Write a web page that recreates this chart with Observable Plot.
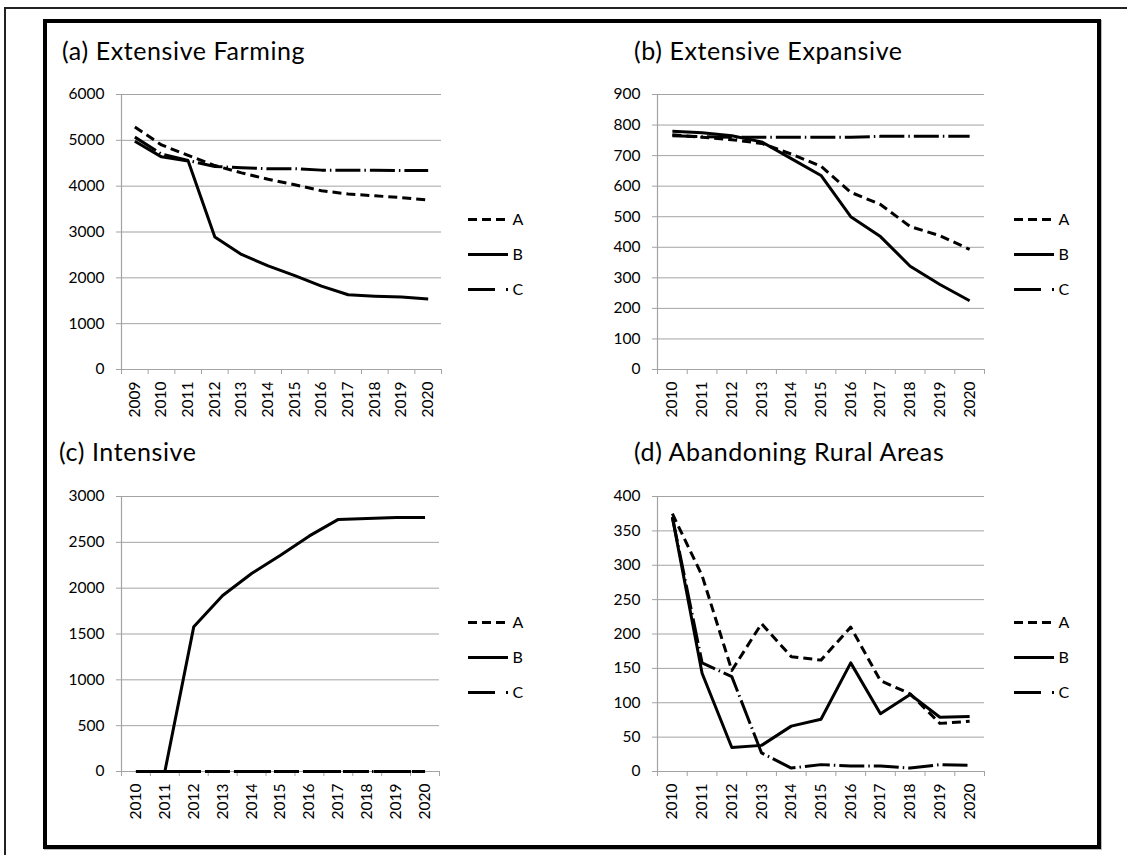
<!DOCTYPE html>
<html>
<head>
<meta charset="utf-8">
<script src="https://cdn.jsdelivr.net/npm/d3@7"></script>
<script src="https://cdn.jsdelivr.net/npm/@observablehq/plot@0.6"></script>
<style>
  body { margin: 0; background: #fff; }
  #root { position: relative; width: 1127px; height: 855px; overflow: hidden; background: #fff;
          font-family: Lato, "Open Sans", sans-serif; }
  .pos { position: absolute; }
  .pos svg { overflow: visible; }
</style>
</head>
<body>
<div id="root"></div>
<script>
// ---------------- data ----------------
const seriesKeys = ["A", "B", "C"];

const yearsFarming = ["2009","2010","2011","2012","2013","2014","2015","2016","2017","2018","2019","2020"];
const yearsOther   = ["2010","2011","2012","2013","2014","2015","2016","2017","2018","2019","2020"];

// (a) Extensive Farming
const farmingA = [5290, 4900, 4670, 4450, 4290, 4150, 4030, 3900, 3830, 3790, 3750, 3700];
const farmingB = [4980, 4640, 4550, 2890, 2510, 2260, 2050, 1820, 1630, 1600, 1580, 1540];
const farmingC = [5070, 4700, 4560, 4430, 4400, 4380, 4380, 4350, 4350, 4350, 4340, 4340];
const farmingTicks = [0, 1000, 2000, 3000, 4000, 5000, 6000];

// (b) Extensive Expansive
const expansiveA = [768, 760, 752, 740, 705, 665, 580, 540, 468, 438, 393];
const expansiveB = [780, 775, 765, 745, 690, 635, 500, 435, 338, 278, 225];
const expansiveC = [765, 762, 760, 760, 760, 760, 760, 763, 763, 763, 763];
const expansiveTicks = [0, 100, 200, 300, 400, 500, 600, 700, 800, 900];

// (c) Intensive
const intensiveA = [0, 0, 0, 0, 0, 0, 0, 0, 0, 0, 0];
const intensiveB = [0, 0, 1580, 1920, 2160, 2360, 2570, 2750, 2760, 2770, 2770];
const intensiveC = [0, 0, 0, 0, 0, 0, 0, 0, 0, 0, 0];
const intensiveTicks = [0, 500, 1000, 1500, 2000, 2500, 3000];

// (d) Abandoning Rural Areas
const abandonA = [375, 285, 147, 215, 167, 162, 210, 132, 113, 70, 73];
const abandonB = [370, 143, 35, 38, 66, 76, 158, 84, 112, 79, 80];
const abandonC = [370, 158, 138, 27, 5, 10, 8, 8, 5, 10, 9];
const abandonTicks = [0, 50, 100, 150, 200, 250, 300, 350, 400];

const titles = ["(a) Extensive Farming", "(b) Extensive Expansive", "(c) Intensive", "(d) Abandoning Rural Areas"];

// ---------------- styles / layout ----------------
const lineDash = { A: "9,5", B: null, C: "25,4,1.5,4" };
const legendDash = { A: "9,5", B: null, C: "27,11,3" };
const GRID = "#a3a3a3";
const FONT = "Lato, 'Open Sans', sans-serif";

const panels = [
  { title: titles[0], years: yearsFarming, values: { A: farmingA, B: farmingB, C: farmingC }, ticks: farmingTicks,
    frame: { left: 121, top: 94, right: 441, bottom: 369 }, titleAt: [62, 60], legendAt: [468, 218] },
  { title: titles[1], years: yearsOther, values: { A: expansiveA, B: expansiveB, C: expansiveC }, ticks: expansiveTicks,
    frame: { left: 657, top: 94, right: 984, bottom: 369 }, titleAt: [634, 60], legendAt: [1014, 218] },
  { title: titles[2], years: yearsOther, values: { A: intensiveA, B: intensiveB, C: intensiveC }, ticks: intensiveTicks,
    frame: { left: 121, top: 496, right: 439, bottom: 771 }, titleAt: [59, 461], legendAt: [468, 621] },
  { title: titles[3], years: yearsOther, values: { A: abandonA, B: abandonB, C: abandonC }, ticks: abandonTicks,
    frame: { left: 657, top: 496, right: 984, bottom: 771 }, titleAt: [634, 461], legendAt: [1014, 621] }
];

const root = document.getElementById("root");

function place(el, left, top) {
  const d = document.createElement("div");
  d.className = "pos";
  d.style.left = left + "px";
  d.style.top = top + "px";
  d.appendChild(el);
  root.appendChild(d);
  return d;
}

// outer thin frame (top + left edges) and thick inner box
const outer = document.createElement("div");
outer.style.cssText = "position:absolute;left:4px;top:7px;width:1200px;height:1000px;border-left:2px solid #222;border-top:2px solid #222;";
root.appendChild(outer);
const box = document.createElement("div");
box.style.cssText = "position:absolute;left:43px;top:19px;width:1058px;height:830px;box-sizing:border-box;border:4px solid #000;box-shadow:1px 1px 0 #bbb;";
root.appendChild(box);

// titles
const ns = "http://www.w3.org/2000/svg";
const tsvg = document.createElementNS(ns, "svg");
tsvg.setAttribute("width", 1127);
tsvg.setAttribute("height", 855);
tsvg.style.cssText = "position:absolute;left:0;top:0;";
panels.forEach(p => {
  const t = document.createElementNS(ns, "text");
  t.setAttribute("x", p.titleAt[0]);
  t.setAttribute("y", p.titleAt[1]);
  t.setAttribute("font-family", FONT);
  t.setAttribute("font-size", "25");
  t.setAttribute("letter-spacing", "0.6");
  t.setAttribute("fill", "#000");
  t.textContent = p.title;
  tsvg.appendChild(t);
});
root.appendChild(tsvg);

// charts
panels.forEach(p => {
  const f = p.frame;
  const ml = 80, mt = 12, mr = 12, mb = 62;
  const W = f.right - f.left + ml + mr;
  const H = f.bottom - f.top + mt + mb;
  const yrs = p.years.map(Number);
  const x0 = yrs[0] - 0.5, x1 = yrs[yrs.length - 1] + 0.5;
  const bounds = d3.range(yrs.length + 1).map(i => x0 + i);
  const rows = seriesKeys.flatMap(k => p.years.map((y, i) => ({ series: k, year: +y, value: p.values[k][i] })));
  const ymax = p.ticks[p.ticks.length - 1];

  const chart = Plot.plot({
    width: W, height: H,
    marginLeft: ml, marginTop: mt, marginRight: mr, marginBottom: mb,
    style: { fontFamily: FONT, background: "transparent", color: "#000" },
    x: { type: "linear", domain: [x0, x1] },
    y: { domain: [0, ymax] },
    marks: [
      Plot.gridY(p.ticks, { stroke: GRID, strokeOpacity: 1, strokeWidth: 1 }),
      Plot.ruleX([x0], { stroke: GRID, strokeWidth: 1.2 }),
      Plot.axisY(p.ticks, { label: null, tickSize: 5, tickPadding: 12, stroke: GRID, fill: "#000", fontSize: 15.5, tickFormat: d => String(d) }),
      Plot.axisX(bounds, { label: null, tickSize: 5, stroke: GRID, tickFormat: () => "" }),
      Plot.axisX(yrs, { label: null, tickSize: 0, tickPadding: 12, tickRotate: -90, fill: "#000", fontSize: 15.5, tickFormat: d => String(d) }),
      ...seriesKeys.map(k => Plot.line(rows.filter(r => r.series === k), {
        x: "year", y: "value", stroke: "#000", strokeWidth: 3,
        strokeDasharray: lineDash[k], strokeLinejoin: "round", strokeLinecap: "butt"
      }))
    ]
  });
  place(chart, f.left - ml, f.top - mt);

  // legend
  const step = 35.5;
  const lm = 10, lr = 30;
  const legend = Plot.plot({
    width: 40 + lr, height: step * 2 + 2 * lm,
    marginLeft: 0, marginRight: lr, marginTop: lm, marginBottom: lm,
    style: { fontFamily: FONT, background: "transparent", color: "#000" },
    x: { domain: [0, 1], axis: null },
    y: { type: "point", domain: seriesKeys, padding: 0, axis: null },
    marks: [
      ...seriesKeys.map(k => Plot.ruleY([k], { y: d => d, x1: 0, x2: 1, stroke: "#000", strokeWidth: 3, strokeDasharray: legendDash[k] })),
      Plot.text(seriesKeys, { x: 1, y: d => d, text: d => d, dx: 4, textAnchor: "start", fontSize: 16, fill: "#000" })
    ]
  });
  place(legend, p.legendAt[0], p.legendAt[1] - lm);
});
</script>
</body>
</html>
